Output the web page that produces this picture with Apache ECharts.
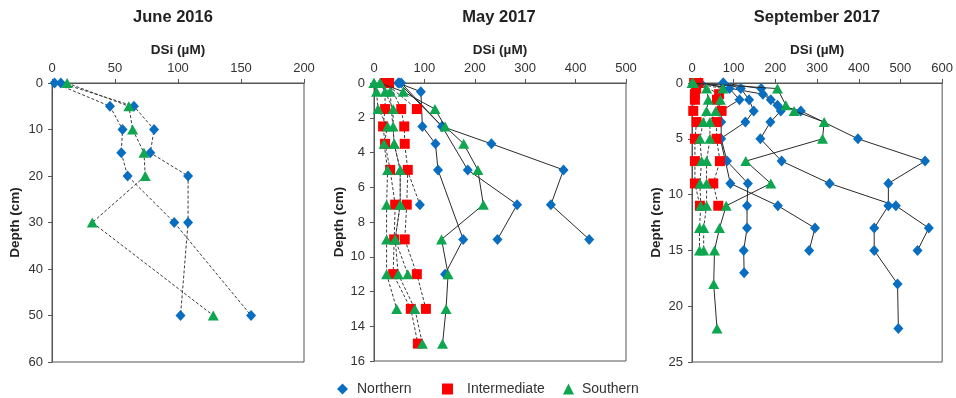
<!DOCTYPE html>
<html>
<head>
<meta charset="utf-8">
<script src="https://cdn.jsdelivr.net/npm/echarts@6/dist/echarts.min.js"></script>
<style>html,body{margin:0;padding:0;background:#fff}#c{width:956px;height:398px}</style>
</head>
<body>
<div id="c"></div>
<script>
// ---- Data: each profile is a list of [DSi (µM), depth (cm)] ----
// June 2016 (all dashed)
const jun_N1 = [[7,0],[65,5],[81,10],[78,15],[108,20],[108,30],[102,50]];
const jun_N2 = [[2,0],[46,5],[56,10],[55,15],[60,20],[97,30],[158,50]];
const jun_S1 = [[12,0],[61,5],[64,10],[73,15],[74,20],[32,30],[128,50]];

// May 2017
const may_N1 = [[48,0],[93,0.5],[96,2.5],[122,3.5],[127,5],[177,9],[141,11]];
const may_N2 = [[54,0],[135,2.5],[233,3.5],[376,5],[351,7],[427,9]];
const may_N3 = [[50,0],[135,2.5],[186,5],[284,7],[245,9]];
const may_N4 = [[66,5],[91,7]];
const may_I1 = [[22,0],[22,1.5],[18,2.5],[22,3.5],[32,5],[42,7],[40,9],[38,11],[73,13],[87,15]];
const may_I2 = [[30,0],[54,1.5],[60,2.5],[61,3.5],[67,5],[65,7],[61,9],[85,11],[103,13]];
const may_I3 = [[22,0],[85,1.5]];
const may_S1 = [[0,0],[5,0.5],[8,1.5],[27,2.5],[20,3.5],[27,5],[25,7],[25,9],[25,11],[45,13]];
const may_S2 = [[12,0],[22,0.5],[38,1.5],[38,2.5],[40,3.5],[52,5],[52,7],[42,9],[48,11],[81,13],[96,15]];
const may_S3 = [[0,0],[32,0.5],[40,3.5],[52,5],[52,7],[42,9],[67,11]];
const may_S4 = [[12,0],[58,0.5],[121,1.5],[141,2.5],[178,3.5],[206,5],[217,7],[134,9],[147,11],[143,13],[136,15]];

// September 2017
const sep_N1 = [[20,0],[170,1],[205,2],[261,2.5],[398,5],[559,7],[471,9],[471,11],[437,13],[437,15],[493,18],[495,22]];
const sep_N2 = [[75,0],[166,0.5],[189,1.5],[213,2.5],[188,3.5],[164,5],[215,7],[330,9],[489,11],[568,13],[541,15]];
const sep_N3 = [[75,0],[117,0.5],[137,1.5],[148,2.5],[128,3.5],[68,5],[92,9],[206,11],[295,13],[281,15]];
const sep_N4 = [[20,0],[90,0.5],[114,1.5],[70,2.5],[70,3.5],[70,5],[84,7],[134,9],[132,11],[132,13],[124,15],[125,17]];
const sep_I1 = [[5,0],[10,0.5],[7,1],[7,1.5],[3,2.5],[11,3.5],[7,5],[7,7],[7,9],[19,11]];
const sep_I2 = [[15,0],[65,1],[60,1.5],[71,2.5],[59,3.5],[59,5],[67,7],[51,9],[63,11]];
const sep_S1 = [[3,0],[35,0.5],[39,1.5],[35,2.5],[27,3.5],[19,5],[23,7],[19,9],[21,11],[18,13],[18,15]];
const sep_S2 = [[3,0],[74,0.5],[68,1.5],[57,2.5],[43,3.5],[43,5],[35,7],[35,9],[35,11],[28,13],[28,15]];
const sep_S3 = [[0,0],[205,0.5],[225,2],[245,2.5],[317,3.5],[313,5],[129,7],[189,9],[82,11],[66,13],[54,15],[52,18],[60,22]];

// Axis settings
const panelTitles = ['June 2016','May 2017','September 2017'];
const xMax = [200, 500, 600];
const xInt = [50, 100, 100];
const yMax = [60, 16, 25];
const yInt = [10, 2, 5];

// ---- Styling ----
const COL = {Northern:'#0A6EC0', Intermediate:'#FF0000', Southern:'#0FA650'};
const SYM = {Northern:'diamond', Intermediate:'rect', Southern:'triangle'};
const SIZE = {Northern:[10,11], Intermediate:[10,10], Southern:[11,10]};
const ZS = {Northern:2, Intermediate:3, Southern:4};

function mk(name, data, g, dashed){
  return {
    name, type:'line', xAxisIndex:g, yAxisIndex:g, data,
    symbol:SYM[name], symbolSize:SIZE[name], showAllSymbol:true,
    itemStyle:{color:COL[name], opacity:1, borderWidth:0},
    lineStyle:{color:dashed?'#3a3a3a':'#2a2a2a', width:1, type:dashed?[3,2]:'solid'},
    z:ZS[name], animation:false, silent:true,
    emphasis:{disabled:true}
  };
}

const series = [
  mk('Northern', jun_N1, 0, true), mk('Northern', jun_N2, 0, true), mk('Southern', jun_S1, 0, true),
  mk('Northern', may_N1, 1, false), mk('Northern', may_N2, 1, false), mk('Northern', may_N3, 1, false), mk('Northern', may_N4, 1, true),
  mk('Intermediate', may_I1, 1, true), mk('Intermediate', may_I2, 1, true), mk('Intermediate', may_I3, 1, true),
  mk('Southern', may_S1, 1, true), mk('Southern', may_S2, 1, true), mk('Southern', may_S3, 1, true), mk('Southern', may_S4, 1, false),
  mk('Northern', sep_N1, 2, false), mk('Northern', sep_N2, 2, false), mk('Northern', sep_N3, 2, false), mk('Northern', sep_N4, 2, false),
  mk('Intermediate', sep_I1, 2, true), mk('Intermediate', sep_I2, 2, true),
  mk('Southern', sep_S1, 2, true), mk('Southern', sep_S2, 2, true), mk('Southern', sep_S3, 2, false)
];

const grids = [
  {left:52, top:83, width:252, height:279},
  {left:374, top:83, width:252, height:278},
  {left:692, top:83, width:252, height:279}
].map(g => Object.assign(g, {show:true, borderColor:'#555', borderWidth:1, backgroundColor:'transparent'}));

const titleX = [173, 499, 817];
const yNameGap = [30, 28, 29];

const xAxes = [0,1,2].map(g => ({
  gridIndex:g, type:'value', position:'top', min:0, max:xMax[g], interval:xInt[g],
  name:'DSi (µM)', nameLocation:'middle', nameGap:26,
  nameTextStyle:{fontWeight:'bold', fontSize:13.5, color:'#222'},
  axisLine:{show:true, lineStyle:{color:'#555'}},
  axisTick:{show:true, inside:false, length:4, lineStyle:{color:'#555'}},
  axisLabel:{fontSize:13, color:'#333', margin:8},
  splitLine:{show:false}
}));
const yAxes = [0,1,2].map(g => ({
  gridIndex:g, type:'value', inverse:true, min:0, max:yMax[g], interval:yInt[g],
  name:'Depth (cm)', nameLocation:'middle', nameGap:yNameGap[g], nameRotate:90,
  nameTextStyle:{fontWeight:'bold', fontSize:13.5, color:'#222'},
  axisLine:{show:true, lineStyle:{color:'#555'}},
  axisTick:{show:true, inside:false, length:4, lineStyle:{color:'#555'}},
  axisLabel:{fontSize:13, color:'#333', margin:9},
  splitLine:{show:false}
}));

const legendDefs = [
  {name:'Northern', icon:'diamond', left:337, w:11, h:11, pad:4},
  {name:'Intermediate', icon:'rect', left:442, w:11, h:11, pad:9},
  {name:'Southern', icon:'triangle', left:563, w:11, h:11, pad:3}
];

const chart = echarts.init(document.getElementById('c'), null, {renderer:'canvas'});
chart.setOption({
  animation:false,
  backgroundColor:'#ffffff',
  textStyle:{fontFamily:'"Liberation Sans", Arial, sans-serif'},
  title: panelTitles.map((t,i) => ({
    text:t, left:titleX[i], top:9, textAlign:'center', padding:0,
    textStyle:{fontSize:16.5, fontWeight:'bold', color:'#222'}
  })),
  legend: legendDefs.map(d => ({
    left:d.left, top:382, padding:0, itemWidth:d.w, itemHeight:d.h, selectedMode:false,
    data:[{name:d.name, icon:d.icon}],
    textStyle:{fontSize:14, color:'#333', padding:[0,0,0,d.pad]}
  })),
  grid: grids,
  xAxis: xAxes,
  yAxis: yAxes,
  series
});
</script>
</body>
</html>
